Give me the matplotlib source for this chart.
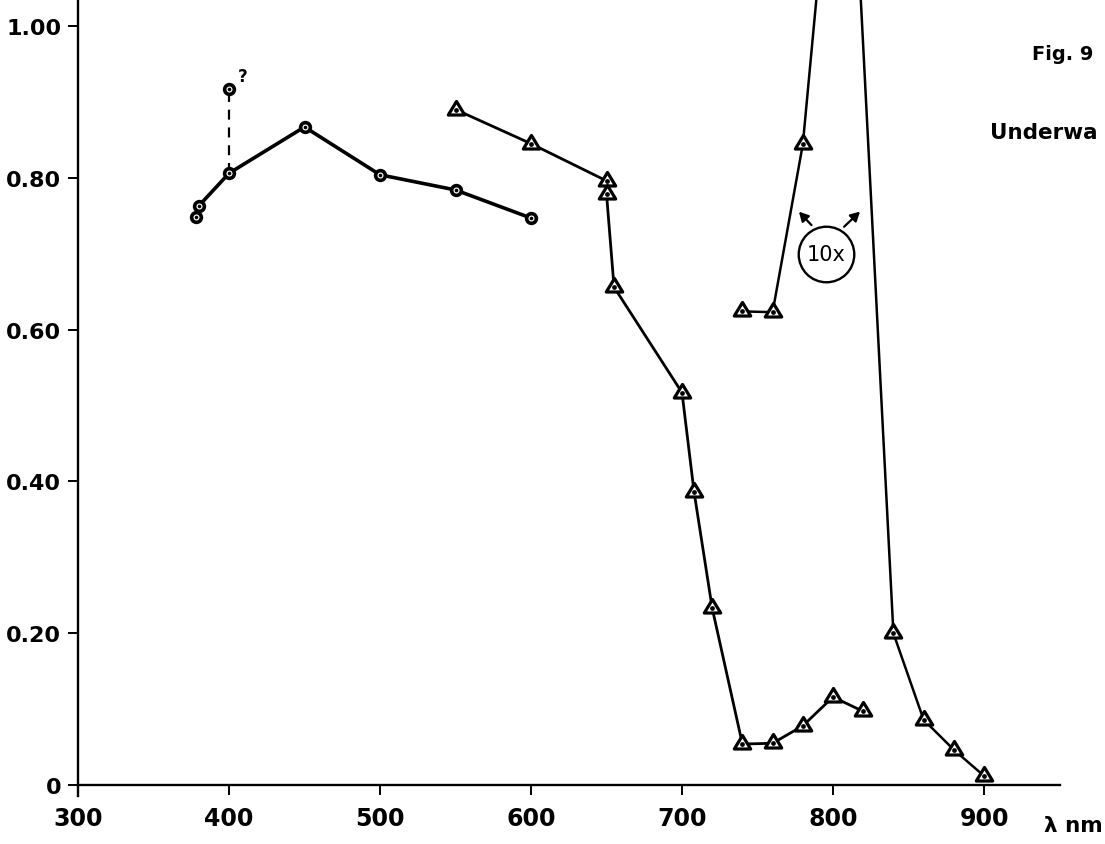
import matplotlib
matplotlib.use("Agg")
import matplotlib.pyplot as plt
from matplotlib.path import Path
from matplotlib.markers import MarkerStyle

# wavelength (nm) / relative value, circle series
circ_nm = [378, 380, 400, 450, 500, 550, 600]
circ_val = [0.749, 0.763, 0.806, 0.867, 0.804, 0.784, 0.747]

# uncertain reading at 400 nm
query_nm = [400]
query_val = [0.917]

# triangle series
tri_nm = [550, 600, 650, 650, 655, 700, 708, 720, 740, 760, 780, 800, 820]
tri_val = [0.890, 0.845, 0.796, 0.779, 0.656, 0.517, 0.386, 0.233,
           0.054, 0.055, 0.078, 0.116, 0.097]

# 10x magnified branch (peak runs above the frame)
mag_nm = [740, 760, 780, 800, 810, 840, 860, 880, 900]
mag_val = [0.624, 0.623, 0.844, 1.27, 1.36, 0.200, 0.086, 0.0465, 0.012]

x_ticks = [300, 400, 500, 600, 700, 800, 900]
y_ticks = [0, 0.2, 0.4, 0.6, 0.8, 1.0]
y_labels = ["0", "0.20", "0.40", "0.60", "0.80", "1.00"]

W, H, DPI = 1105, 845, 100
fig = plt.figure(figsize=(W / DPI, H / DPI), dpi=DPI)
ax = fig.add_axes([0, 0, 1, 1])
ax.set_xlim(248.34, 980.13)
ax.set_ylim(-0.0777, 1.0356)

FONT = "DejaVu Sans"
tri_path = Path([(-1, -0.55), (1, -0.55), (0, 1.1), (-1, -0.55)],
                [Path.MOVETO, Path.LINETO, Path.LINETO, Path.CLOSEPOLY])
tri_marker = MarkerStyle(tri_path, joinstyle="round")

# lines
ax.plot(circ_nm, circ_val, color="black", lw=2.6, zorder=2)
ax.plot(tri_nm, tri_val, color="black", lw=2.0, zorder=2)
ax.plot(mag_nm, mag_val, color="black", lw=1.8, zorder=2)
ax.plot([circ_nm[2], query_nm[0]], [circ_val[2], query_val[0]], color="black",
        lw=1.6, dashes=(4.5, 3.5), zorder=1)

# circle markers
for xs, ys in ((circ_nm, circ_val), (query_nm, query_val)):
    ax.plot(xs, ys, ls="none", marker="o", ms=7, mfc="white", mec="black",
            mew=2.6, zorder=3)
    ax.plot(xs, ys, ls="none", marker="o", ms=1.6, mfc="black", mec="black",
            zorder=4)

# triangle markers
for xs, ys in ((tri_nm, tri_val), (mag_nm, mag_val)):
    ax.plot(xs, ys, ls="none", marker=tri_marker, ms=13, mfc="white",
            mec="black", mew=2.3, zorder=3)
    ax.plot(xs, ys, ls="none", marker="o", ms=2.4, mfc="black", mec="black",
            zorder=4)

ax.annotate("?", (query_nm[0], query_val[0]), xytext=(6, 3),
            textcoords="offset points", fontsize=12, fontweight="bold",
            family=FONT, ha="left", va="bottom")

# 10x badge with two arrows
ax.plot([795.2], [0.700], ls="none", marker="o", ms=40, mfc="none",
        mec="black", mew=1.7, zorder=3)
ax.text(795.2, 0.700, "10x", fontsize=15, family=FONT,
        ha="center", va="center")
arrow_kw = dict(arrowstyle="-|>,head_length=0.55,head_width=0.3",
                color="black", lw=1.6)
ax.annotate("", xy=(776.2, 0.758), xytext=(787.0, 0.735), arrowprops=arrow_kw)
ax.annotate("", xy=(819.2, 0.758), xytext=(806.0, 0.733), arrowprops=arrow_kw)

# axes styling
for side in ("top", "right"):
    ax.spines[side].set_visible(False)
ax.spines["left"].set_position(("data", 300))
ax.spines["left"].set_bounds(-0.014, 1.0356)
ax.spines["bottom"].set_position(("data", 0))
ax.spines["bottom"].set_bounds(300, 950)
for side in ("left", "bottom"):
    ax.spines[side].set_linewidth(1.7)

ax.set_xticks(x_ticks)
ax.set_xticklabels([str(v) for v in x_ticks])
ax.set_yticks(y_ticks)
ax.set_yticklabels(y_labels)
ax.tick_params(axis="both", direction="out", length=7, width=1.4,
               labelsize=17)
ax.tick_params(axis="x", pad=8)
ax.tick_params(axis="y", pad=5, labelsize=16)
for lab in ax.get_xticklabels() + ax.get_yticklabels():
    lab.set_fontweight("bold")
    lab.set_family(FONT)

fig.text(1044 / W, 1 - 826 / H, "λ nm", fontsize=15.5, fontweight="bold",
         family=FONT, ha="left", va="center")
fig.text(1032 / W, 1 - 54 / H, "Fig. 9", fontsize=14, fontweight="bold",
         family=FONT, ha="left", va="center")
fig.text(990 / W, 1 - 133 / H, "Underwa", fontsize=15.5, fontweight="bold",
         family=FONT, ha="left", va="center")

fig.savefig("out.png", dpi=DPI)
